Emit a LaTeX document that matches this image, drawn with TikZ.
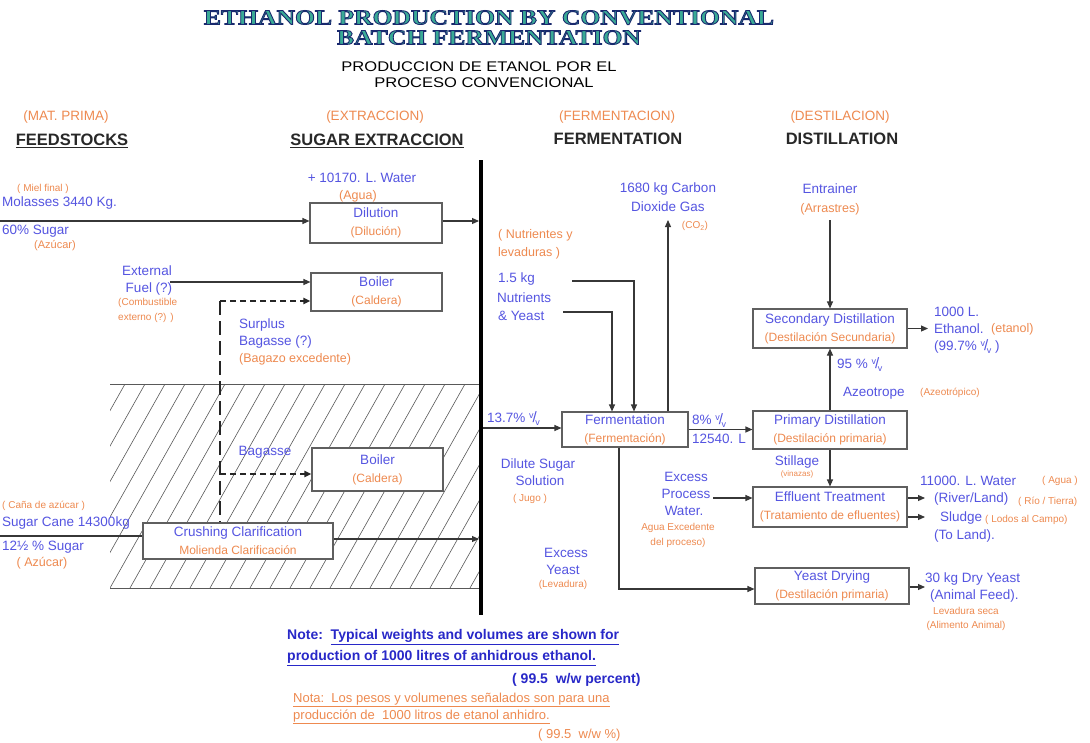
\documentclass[tikz,border=0pt]{standalone}
\usepackage{fontspec}
\setmainfont{Liberation Sans}
\newfontfamily\ttlfont{Liberation Serif}[FakeStretch=1.22]
\newfontfamily\subtfont{Liberation Sans}[FakeStretch=1.18]
\usetikzlibrary{arrows.meta}
\definecolor{blueT}{RGB}{85,85,225}
\definecolor{orangeT}{RGB}{238,138,80}
\definecolor{noteB}{RGB}{40,40,200}
\definecolor{hdgray}{RGB}{40,40,40}
\definecolor{lineG}{RGB}{55,55,55}
\definecolor{boxG}{RGB}{95,95,95}
\definecolor{ttlfill}{RGB}{58,170,150}
\newcommand{\myvv}{\raisebox{4pt}{\fontsize{9}{9}\selectfont v}\kern-1pt{\fontsize{15}{15}\selectfont /}\kern-1.5pt\raisebox{-3pt}{\fontsize{9}{9}\selectfont v}}
\newcommand{\bluetxt}[1]{\textcolor{blueT}{#1}}
\newcommand{\orangetxt}[1]{{\fontsize{12}{15}\selectfont\textcolor{orangeT}{#1}}}
\newcommand{\outlinetxt}[1]{{\color{ttlfill}\special{pdf:literal direct 2 Tr 0.9 w 0.10 0.16 0.43 RG}#1\special{pdf:literal direct 0 Tr 0.4 w}}}
\tikzset{
  bl/.style={text=blueT, font=\fontsize{13.5}{16}\selectfont, inner sep=0pt},
  og/.style={text=orangeT, font=\fontsize{12.5}{15}\selectfont, inner sep=0pt},
  os/.style={text=orangeT, font=\fontsize{10}{12}\selectfont, inner sep=0pt},
  hd/.style={text=hdgray, font=\fontsize{16.5}{19}\selectfont\bfseries, inner sep=0pt},
  hdo/.style={text=orangeT, font=\fontsize{13.5}{16}\selectfont, inner sep=0pt},
  ttl/.style={font={\fontsize{21}{20}\ttlfont\bfseries}, inner sep=0pt, align=center},
  subt/.style={font={\fontsize{14}{16}\subtfont}, text=black, inner sep=0pt},
  proc/.style={draw=boxG, line width=1.1pt, fill=white, align=center, inner sep=0pt, font=\fontsize{13.5}{18}\selectfont},
  flow/.style={draw=lineG, line width=1.1pt, -{Triangle[length=7pt,width=6pt]}},
  fline/.style={draw=lineG, line width=1.1pt},
  dsh/.style={draw=black!85, line width=2pt, dash pattern=on 6pt off 4pt, -{Triangle[length=7pt,width=6pt]}},
  ldsh/.style={draw=black!85, line width=2.5pt, dash pattern=on 14pt off 6pt},
  hatchln/.style={draw=black!65, line width=0.6pt},
  notest/.style={text=noteB, font=\fontsize{14}{16}\selectfont\bfseries, inner sep=0pt},
  notor/.style={text=orangeT, font=\fontsize{13}{15}\selectfont, inner sep=0pt},
}
\begin{document}
\begin{tikzpicture}[x=1pt,y=-1pt]
\path[use as bounding box] (0,0) rectangle (1090,742);
\clip (0,0) rectangle (1090,742);
\fill[white] (0,0) rectangle (1090,742);

% title
\node[ttl] (ttl) at (489,27.5) {\outlinetxt{ETHANOL PRODUCTION BY CONVENTIONAL}\\\outlinetxt{BATCH FERMENTATION}};
\node[subt] (sub1) at (479,67) {PRODUCCION DE ETANOL POR EL};
\node[subt] (sub2) at (484,83) {PROCESO CONVENCIONAL};

% headers
\node[hdo] (hMat) at (66,117) {(MAT. PRIMA)};
\node[hd] (hFeed) at (72,141) {\underline{FEEDSTOCKS}};
\node[hdo] (hExt) at (375,117) {(EXTRACCION)};
\node[hd] (hSug) at (377,141) {\underline{SUGAR EXTRACCION}};
\node[hdo] (hFer) at (617,117) {(FERMENTACION)};
\node[hd] (hFerm) at (618,139) {FERMENTATION};
\node[hdo] (hDes) at (840,117) {(DESTILACION)};
\node[hd] (hDis) at (842,139) {DISTILLATION};

% hatched region
\begin{scope}
\clip (110,384) rectangle (479,588);
\foreach \i in {-6,...,19} \draw[hatchln] (110+\i*20,588) -- ++(115,-204);
\end{scope}
\draw[hatchln] (110,384) -- (479,384);
\draw[hatchln] (110,588) -- (479,588);

% boxes
\node[proc, minimum width=132pt, minimum height=40pt] (dil) at (376,223) {\bluetxt{Dilution}\\\orangetxt{(Dilución)}};
\node[proc, minimum width=131pt, minimum height=38pt] (boil1) at (376.5,292) {\bluetxt{Boiler}\\\orangetxt{(Caldera)}};
\node[proc, minimum width=131pt, minimum height=43pt] (boil2) at (377.5,469.5) {\bluetxt{Boiler}\\\orangetxt{(Caldera)}};
\node[proc, minimum width=190pt, minimum height=36pt] (crush) at (238,541) {\bluetxt{Crushing Clarification}\\\orangetxt{Molienda Clarificación}};
\node[proc, minimum width=126pt, minimum height=35pt] (ferm) at (625,429.5) {\bluetxt{Fermentation}\\\orangetxt{(Fermentación)}};
\node[proc, minimum width=154pt, minimum height=38pt] (prim) at (830,430) {\bluetxt{Primary Distillation}\\\orangetxt{(Destilación primaria)}};
\node[proc, minimum width=154pt, minimum height=39pt] (sec) at (830,328.5) {\bluetxt{Secondary Distillation}\\\orangetxt{(Destilación Secundaria)}};
\node[proc, minimum width=154pt, minimum height=40pt] (eff) at (830,507) {\bluetxt{Effluent Treatment}\\\orangetxt{(Tratamiento de efluentes)}};
\node[proc, minimum width=154pt, minimum height=36pt] (yeast) at (832,586) {\bluetxt{Yeast Drying}\\\orangetxt{(Destilación primaria)}};

% bar coordinates
\coordinate (barL) at (479,162);

% connectors
\coordinate (molin) at (0,221);
\draw[flow] (molin) -- (molin -| dil.west);
\draw[flow] (molin -| dil.east) -- (molin -| barL);
\coordinate (fuel) at (170,282);
\draw[flow] (fuel) -- (fuel -| boil1.west);
\coordinate (dtop) at (220,301);
\draw[ldsh] (dtop) -- (dtop |- crush.north);
\draw[dsh] (dtop) -- (dtop -| boil1.west);
\coordinate (dmid) at (220,474);
\draw[dsh] (dmid) -- (dmid -| boil2.west);
\coordinate (canein) at (0,536);
\draw[fline] (canein) -- (canein -| crush.west);
\coordinate (crout) at (0,539);
\draw[flow] (crout -| crush.east) -- (crout -| barL);
\coordinate (fin) at (483,428);
\draw[flow] (fin) -- (fin -| ferm.west);
\coordinate (n1) at (572,281);
\coordinate (n2) at (563,312);
\draw[flow] (n1) -| ([xshift=9pt]ferm.north);
\draw[flow] (n2) -| ([xshift=-13pt]ferm.north);
\coordinate (co2) at (668,220);
\draw[flow] (ferm.north -| co2) -- (co2);
\draw[flow] (ferm.east) -- (ferm.east -| prim.west);
\draw[flow] (prim.north) -- (sec.south);
\coordinate (ent) at (830,220);
\draw[flow] (ent) -- (sec.north);
\coordinate (ethout) at (928,328.5);
\draw[flow] (sec.east) -- (ethout);
\draw[flow] (prim.south) -- (eff.north);
\coordinate (exw) at (713,498);
\draw[flow] (exw) -- (exw -| eff.west);
\coordinate (o1) at (925,498);
\coordinate (o2) at (925,517);
\draw[flow] (o1 -| eff.east) -- (o1);
\draw[flow] (o2 -| eff.east) -- (o2);
\coordinate (yc) at (619,589);
\draw[flow] (ferm.south -| yc) -- (yc) -- (yc -| yeast.west);
\coordinate (yo) at (925,587);
\draw[flow] (yo -| yeast.east) -- (yo);

% thick bar
\draw[line width=4pt, black] (481,160) coordinate (barTop) -- (481,615) coordinate (barBot);

% feedstock texts
\node[os] (tMiel) at (43,189) {( Miel final )};
\node[bl, anchor=west] (tMol) at (2,203) {Molasses 3440 Kg.};
\node[bl, anchor=west] (tSug1) at (2,231) {60\% Sugar};
\node[og, font=\fontsize{11}{13}\selectfont] (tAz1) at (55,246) {(Azúcar)};
\node[os, anchor=west] (tCana) at (2,506) {( Caña de azúcar )};
\node[bl, anchor=west] (tCane) at (2,523) {Sugar Cane 14300kg};
\node[bl, anchor=west] (tSug2) at (2,547) {12½ \% Sugar};
\node[og] (tAz2) at (42,563) {( Azúcar)};

% extraction texts
\node[bl] (tWat) at (362,178) {+ 10170. L. Water};
\node[og] (tAgua) at (358,196) {(Agua)};
\node[bl] (tExt) at (147,271) {External};
\node[bl] (tFuel) at (149,289) {Fuel (?)};
\node[os, anchor=west] (tComb) at (118,303) {(Combustible};
\node[os, anchor=west] (tExtn) at (118,318) {externo (?) )};
\node[bl, anchor=west] (tSur) at (239,325) {Surplus};
\node[bl, anchor=west] (tSurB) at (239,342) {Bagasse (?)};
\node[og, anchor=west] (tBagEx) at (239,359) {(Bagazo excedente)};
\node[bl] (tBag) at (265,452) {Bagasse};

% fermentation texts
\node[og, anchor=west] (tNut1) at (498,235) {( Nutrientes y};
\node[og, anchor=west] (tNut2) at (498,253) {levaduras )};
\node[bl, anchor=west] (tKg) at (498,279) {1.5 kg};
\node[bl, anchor=west] (tNutr) at (497,298) {Nutrients};
\node[bl, anchor=west] (tYst) at (498,316) {\& Yeast};
\node[bl] (tCarb) at (668,189) {1680 kg Carbon};
\node[bl] (tDiox) at (668,207) {Dioxide Gas};
\node[os] (tCO2) at (695,226) {(CO\textsubscript{2})};
\node[bl, anchor=west] (t137) at (487,419) {13.7\% \myvv};
\node[bl] (tDil) at (538,465) {Dilute Sugar};
\node[bl] (tSol) at (540,481) {Solution};
\node[os] (tJugo) at (530,499) {( Jugo )};
\node[bl] (tExY) at (566,553) {Excess};
\node[bl] (tYeast) at (563,570) {Yeast};
\node[os] (tLev) at (563,585) {(Levadura)};
\node[bl, anchor=west] (t8) at (692,421) {8\% \myvv};
\node[bl, anchor=west] (t125) at (692,439) {12540. L};

% distillation texts
\node[bl] (tEnt) at (830,189) {Entrainer};
\node[og] (tArr) at (830,209) {(Arrastres)};
\node[bl, anchor=west] (t1000) at (934,312) {1000 L.};
\node[bl, anchor=west] (tEth) at (934,329) {Ethanol.};
\node[og, anchor=west] (tEta) at (991,329) {(etanol)};
\node[bl, anchor=west] (t997) at (934,347) {(99.7\% \myvv\ )};
\node[bl, anchor=west] (t95) at (837,365) {95 \% \myvv};
\node[bl, anchor=west] (tAze) at (843,393) {Azeotrope};
\node[os, anchor=west] (tAzeo) at (920,393) {(Azeotrópico)};
\node[bl] (tStil) at (797,462) {Stillage};
\node[os, font=\fontsize{8}{9}\selectfont] (tVin) at (797,474) {(vinazas)};
\node[bl] (tExc) at (686,477) {Excess};
\node[bl] (tPro) at (686,494) {Process};
\node[bl] (tWtr) at (684,511) {Water.};
\node[os] (tAgE) at (678,528) {Agua Excedente};
\node[os] (tDel) at (678,543) {del proceso)};
\node[bl, anchor=west] (t11k) at (920,481) {11000. L. Water};
\node[os, anchor=west] (tAg2) at (1042,481) {( Agua )};
\node[bl, anchor=west] (tRiv) at (934,499) {(River/Land)};
\node[os, anchor=west] (tRio) at (1018,502) {( Río / Tierra)};
\node[bl, anchor=west] (tSl) at (940,518) {Sludge};
\node[os, anchor=west] (tLod) at (985,520) {( Lodos al Campo)};
\node[bl, anchor=west] (tTL) at (934,536) {(To Land).};
\node[bl, anchor=west] (t30) at (925,579) {30 kg Dry Yeast};
\node[bl, anchor=west] (tAF) at (930,596) {(Animal Feed).};
\node[os] (tLS) at (966,611) {Levadura seca};
\node[os] (tAA) at (966,626) {(Alimento Animal)};

% notes
\node[notest, anchor=west] (note1) at (287,637) {Note:\ \ \underline{Typical weights and volumes are shown for}};
\node[notest, anchor=west] (note2) at (287,658) {\underline{production of 1000 litres of anhidrous ethanol.}};
\node[notest, anchor=west] (note3) at (512,680) {( 99.5\ \ w/w percent)};
\node[notor, anchor=west] (note4) at (293,700) {\underline{Nota:\ \ Los pesos y volumenes señalados son para una}};
\node[notor, anchor=west] (note5) at (293,717) {\underline{producción de\ \ 1000 litros de etanol anhidro.}};
\node[notor, anchor=west] (note6) at (538,735) {( 99.5\ \ w/w \%)};
\end{tikzpicture}
\end{document}
